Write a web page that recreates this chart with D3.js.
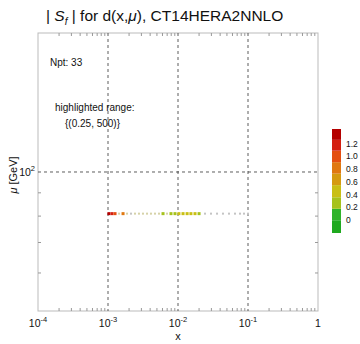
<!DOCTYPE html>
<html>
<head>
<meta charset="utf-8">
<script src="https://cdn.jsdelivr.net/npm/d3@7"></script>
<style>
  body { margin: 0; background: #fff; }
  text { font-family: "Liberation Sans", Arial, sans-serif; fill: #111; }
</style>
</head>
<body>
<svg id="chart" width="360" height="344"></svg>
<script>
// sampled points: x, mu and |S_f|
var xVals = [1.03e-3, 1.14e-3, 1.26e-3, 1.44e-3, 1.64e-3, 1.87e-3, 2.13e-3, 2.43e-3, 2.77e-3, 3.16e-3,
    3.61e-3, 4.11e-3, 4.69e-3, 5.35e-3, 6.11e-3, 6.96e-3, 7.94e-3, 9.06e-3, 1.03e-2, 1.18e-2,
    1.35e-2, 1.53e-2, 1.75e-2, 2.0e-2, 2.43e-2, 2.96e-2, 3.61e-2, 4.39e-2, 5.35e-2, 6.52e-2,
    7.69e-2, 8.77e-2, 0.1];
var muVals = [81, 81, 81, 81, 81, 81, 81, 81, 81, 81, 81, 81, 81, 81, 81, 81, 81, 81, 81, 81,
    81, 81, 81, 81, 81, 81, 81, 81, 81, 81, 81, 81, 81];
var sfVals = [1.3, 1.1, 0.95, 0.2, 0.8, 0.2, 0.15, 0.2, 0.18, 0.2, 0.18, 0.2, 0.22, 0.2, 0.3, 0.22,
    0.35, 0.3, 0.4, 0.45, 0.42, 0.4, 0.38, 0.3, 0.12, 0.1, 0.08, 0.06, 0.05, 0.05, 0.04, 0.04, 0.06];
var highlight = [0.25, 500];

var xTicks = [1e-4, 1e-3, 1e-2, 1e-1, 1];
var xTickLabels = ["10", "10", "10", "10", "1"];
var xTickExp = ["-4", "-3", "-2", "-1", ""];
var muMinor = [60, 70, 80, 90];

var cbStops = [-0.2, 0, 0.18, 0.36, 0.55, 0.73, 0.91, 1.09, 1.26, 1.43];
var cbColors = ["#1fa91f", "#2fb32a", "#a6c21c", "#c9bf14", "#d59a10", "#e07810", "#e44e10", "#d41f10", "#b40000"];
var cbTicks = [0, 0.2, 0.4, 0.6, 0.8, 1.0, 1.2];

var svg = d3.select("#chart");
var L = 38, R = 318, T = 33, B = 311;

var x = d3.scaleLog().domain([1e-4, 1]).range([L, R]);
var y = d3.scaleLog().domain([49.5, 202]).range([B, T]);
var color = d3.scaleThreshold().domain(cbStops.slice(1, -1)).range(cbColors);

// frame
svg.append("rect").attr("x", L).attr("y", T).attr("width", R - L).attr("height", B - T)
    .attr("fill", "none").attr("stroke", "#bbb").attr("stroke-width", 1);

// minor ticks along x
var minorX = [];
for (var e = -4; e < 0; e++) for (var k = 2; k < 10; k++) minorX.push(k * Math.pow(10, e));
minorX.forEach(function (v) {
    svg.append("line").attr("x1", x(v)).attr("x2", x(v)).attr("y1", B).attr("y2", B - 3).attr("stroke", "#999");
    svg.append("line").attr("x1", x(v)).attr("x2", x(v)).attr("y1", T).attr("y2", T + 3).attr("stroke", "#999");
});
muMinor.forEach(function (v) {
    svg.append("line").attr("x1", L).attr("x2", L + 3).attr("y1", y(v)).attr("y2", y(v)).attr("stroke", "#999");
    svg.append("line").attr("x1", R).attr("x2", R - 3).attr("y1", y(v)).attr("y2", y(v)).attr("stroke", "#999");
});

// grid
xTicks.slice(1, -1).forEach(function (v) {
    svg.append("line").attr("x1", x(v)).attr("x2", x(v)).attr("y1", T).attr("y2", B)
        .attr("stroke", "#333").attr("stroke-width", 0.8).attr("stroke-dasharray", "3,3");
});
svg.append("line").attr("x1", L).attr("x2", R).attr("y1", y(100)).attr("y2", y(100))
    .attr("stroke", "#333").attr("stroke-width", 0.8).attr("stroke-dasharray", "3,3");

// x tick labels
xTicks.forEach(function (v, i) {
    var t = svg.append("text").attr("x", x(v)).attr("y", 327).attr("text-anchor", "middle")
        .style("font-size", "10.5px");
    t.append("tspan").text(xTickLabels[i]);
    if (xTickExp[i]) t.append("tspan").attr("dy", -5).style("font-size", "7.5px").text(xTickExp[i]);
});
var yl = svg.append("text").attr("x", 35).attr("y", y(100) + 4).attr("text-anchor", "end")
    .style("font-size", "10.5px");
yl.append("tspan").text("10");
yl.append("tspan").attr("dy", -5).style("font-size", "7.5px").text("2");

// axis titles
svg.append("text").attr("x", 178).attr("y", 340).attr("text-anchor", "middle")
    .style("font-size", "11px").text("x");
var yt = svg.append("text").attr("transform", "translate(17," + 175 + ") rotate(-90)")
    .attr("text-anchor", "middle").style("font-size", "11px");
yt.append("tspan").style("font-style", "italic").text("\u03bc");
yt.append("tspan").text(" [GeV]");

// title
var title = svg.append("text").attr("x", 46).attr("y", 21).style("font-size", "15.5px");
title.append("tspan").text("| ");
title.append("tspan").style("font-style", "italic").text("S");
title.append("tspan").attr("dy", 4).style("font-style", "italic").style("font-size", "10px").text("f");
title.append("tspan").attr("dy", -4).text(" | for d(x,");
title.append("tspan").style("font-style", "italic").text("\u03bc");
title.append("tspan").text("), CT14HERA2NNLO");

// annotations
svg.append("text").attr("x", 50).attr("y", 66).style("font-size", "10px").text("Npt: 33");
svg.append("text").attr("x", 55).attr("y", 111).style("font-size", "10px").text("highlighted range:");
svg.append("text").attr("x", 65).attr("y", 127).style("font-size", "10px").text("{(0.25, 500)}");

// points
var pts = xVals.map(function (v, i) { return { x: v, mu: muVals[i], s: sfVals[i] }; });
var isHi = function (d) { return d.s >= highlight[0] && d.s <= highlight[1]; };
svg.append("g").selectAll("rect").data(pts.filter(function (d) { return !isHi(d); })).enter().append("rect")
    .attr("x", function (d) { return x(d.x) - 1; })
    .attr("y", function (d) { return y(d.mu) - 1; })
    .attr("width", 2).attr("height", 2)
    .attr("fill", function (d) { return d.s > 0.15 ? "#d6d2a8" : "#c4c4c4"; });
svg.append("g").selectAll("rect").data(pts.filter(isHi)).enter().append("rect")
    .attr("x", function (d) { return x(d.x) - 1.5; })
    .attr("y", function (d) { return y(d.mu) - 1.5; })
    .attr("width", 3).attr("height", 3)
    .attr("fill", function (d) { return color(d.s); });

// colorbar
var cb = d3.scaleLinear().domain([cbStops[0], cbStops[cbStops.length - 1]]).range([233, 129]);
cbColors.forEach(function (c, i) {
    svg.append("rect").attr("x", 332).attr("y", cb(cbStops[i + 1]))
        .attr("width", 9).attr("height", cb(cbStops[i]) - cb(cbStops[i + 1]))
        .attr("fill", c);
});
cbTicks.forEach(function (v) {
    svg.append("text").attr("x", 346).attr("y", cb(v) + 3).style("font-size", "8.5px")
        .text(v === 0 ? "0" : v.toFixed(1));
});
</script>
</body>
</html>
